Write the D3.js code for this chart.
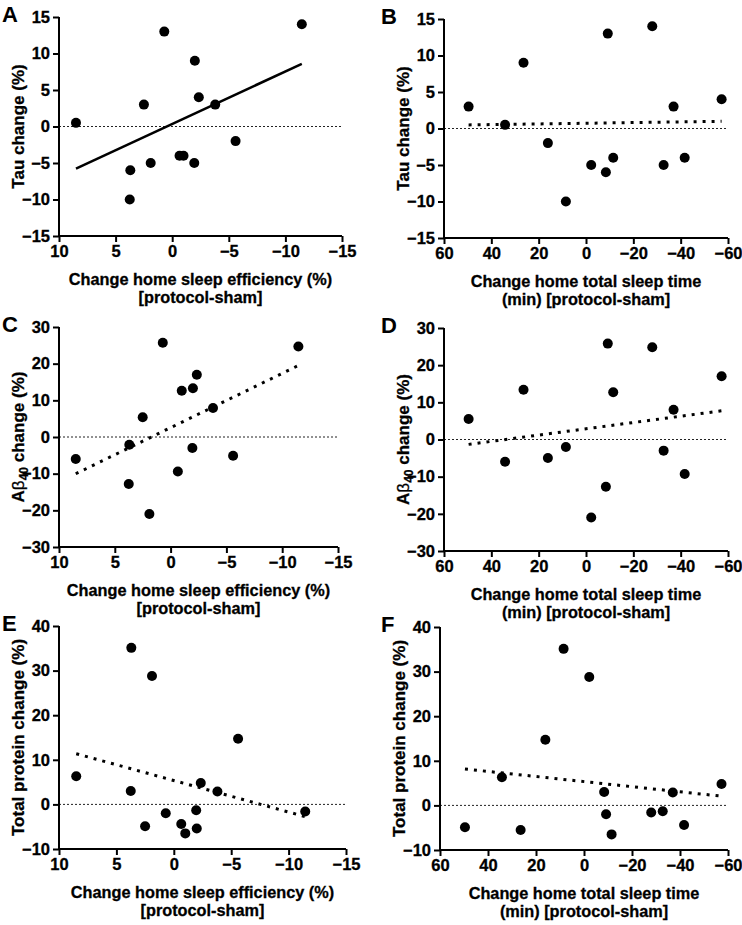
<!DOCTYPE html>
<html>
<head>
<meta charset="utf-8">
<script src="https://cdn.jsdelivr.net/npm/d3@7"></script>
<style>
  body { margin: 0; background: #fff; }
  svg text { font-family: "Liberation Sans", Arial, sans-serif; font-weight: bold; fill: #000; }
</style>
</head>
<body>
<svg id="chart" width="742" height="925"></svg>
<script>
// change in home sleep efficiency (%) per participant, protocol-sham
const effChange = [8.5, 3.7, 3.75, 2.5, 1.9, 0.7, -0.65, -1.0, -2.0, -1.95, -2.35, -3.8, -5.6, -11.45];
const tauByEff  = [0.5, -6, -10, 3, -5, 13, -4, -4, 9, -5, 4, 3, -2, 14];
const abByEff   = [-6, -2.1, -12.8, 5.4, -21, 25.7, -9.4, 12.6, 13.3, -3, 17, 7.9, -5.1, 24.7];
const protByEff = [6.3, 35.1, 3.0, -4.9, 28.8, -2, -4.4, -6.5, -5.4, -1.3, 4.8, 2.9, 14.7, -1.6];

// change in home total sleep time (min), protocol-sham
const tstChange  = [49.6, 34.2, 26.4, 16.1, 8.5, -2.2, -8.4, -9.2, -11.5, -28, -32.8, -37, -41.7, -57.3];
const tauByTst   = [3, 0.5, 9, -2, -10, -5, -6, 13, -4, 14, -5, 3, -4, 4];
const abByTst    = [5.5, -6, 13.4, -5, -2, -21, -12.7, 25.8, 12.7, 24.8, -3, 8, -9.3, 17];
const protByTst  = [-4.9, 6.3, -5.5, 14.7, 35.1, 28.8, 3.0, -2, -6.5, -1.6, -1.3, 2.9, -4.4, 4.8];

const effTicks = [10, 5, 0, -5, -10, -15];
const tstTicks = [60, 40, 20, 0, -20, -40, -60];
const tauTicks = [-15, -10, -5, 0, 5, 10, 15];
const abTicks  = [-30, -20, -10, 0, 10, 20, 30];
const protTicks = [-10, 0, 10, 20, 30, 40];

const effTitle = ["Change home sleep efficiency (%)", "[protocol-sham]"];
const tstTitle = ["Change home total sleep time", "(min) [protocol-sham]"];

const svg = d3.select("#chart");

// panel layouts (plot box in px)
const panels = [
  {id: "A", x: effChange, y: tauByEff, xt: effTicks, yt: tauTicks, xTitle: effTitle, yTitle: "tau", solid: true,
   box: [59, 342, 17, 236]},
  {id: "B", x: tstChange, y: tauByTst, xt: tstTicks, yt: tauTicks, xTitle: tstTitle, yTitle: "tau",
   box: [444, 728, 19, 238]},
  {id: "C", x: effChange, y: abByEff, xt: effTicks, yt: abTicks, xTitle: effTitle, yTitle: "ab",
   box: [59, 338, 327, 547]},
  {id: "D", x: tstChange, y: abByTst, xt: tstTicks, yt: abTicks, xTitle: tstTitle, yTitle: "ab",
   box: [444, 728, 328, 551]},
  {id: "E", x: effChange, y: protByEff, xt: effTicks, yt: protTicks, xTitle: effTitle, yTitle: "prot",
   box: [59, 346, 626, 849]},
  {id: "F", x: tstChange, y: protByTst, xt: tstTicks, yt: protTicks, xTitle: tstTitle, yTitle: "prot",
   box: [440, 728, 627, 850]}
];

// least squares fit
function linFit(xs, ys) {
  const mx = d3.mean(xs), my = d3.mean(ys);
  let sxy = 0, sxx = 0;
  xs.forEach((v, i) => { sxy += (v - mx) * (ys[i] - my); sxx += (v - mx) * (v - mx); });
  const b = sxy / sxx;
  return {b: b, a: my - b * mx};
}

panels.forEach(p => {
  const [x0, x1, y0, y1] = p.box;
  const xs = d3.scaleLinear().domain([p.xt[0], p.xt[p.xt.length - 1]]).range([x0, x1]);
  const ys = d3.scaleLinear().domain([p.yt[0], p.yt[p.yt.length - 1]]).range([y1, y0]);
  const g = svg.append("g");

  // zero reference line
  g.append("line")
    .attr("x1", xs(p.xt[0])).attr("x2", xs(p.xt[p.xt.length - 1]))
    .attr("y1", ys(0)).attr("y2", ys(0))
    .attr("stroke", "#222").attr("stroke-width", 1).attr("stroke-dasharray", "2,2");

  // axes
  const xAxis = d3.axisBottom(xs).tickValues(p.xt).tickSize(6).tickSizeOuter(0).tickPadding(3).tickFormat(d3.format("d"));
  const yAxis = d3.axisLeft(ys).tickValues(p.yt).tickSize(6).tickSizeOuter(0).tickPadding(3).tickFormat(d3.format("d"));
  const gx = g.append("g").attr("transform", "translate(0," + y1 + ")").call(xAxis);
  const gy = g.append("g").attr("transform", "translate(" + x0 + ",0)").call(yAxis);
  [gx, gy].forEach(a => {
    a.selectAll("path, line").attr("stroke", "#000").attr("stroke-width", 2);
    a.selectAll("text").style("font-size", "16.5px").style("font-family", "Liberation Sans, Arial, sans-serif")
      .style("font-weight", "bold").attr("fill", "#000").attr("stroke", "#000").attr("stroke-width", 0.3);
  });
  gx.select(".domain").attr("d", "M" + x0 + ",0H" + x1);
  gy.select(".domain").attr("d", "M0," + y0 + "V" + (y1 + 1));

  // regression line over the data range
  const fit = linFit(p.x, p.y);
  const ext = d3.extent(p.x);
  const fitLine = g.append("line")
    .attr("x1", xs(ext[1])).attr("y1", ys(fit.a + fit.b * ext[1]))
    .attr("x2", xs(ext[0])).attr("y2", ys(fit.a + fit.b * ext[0]))
    .attr("stroke", "#000");
  if (p.solid) fitLine.attr("stroke-width", 2.5);
  else fitLine.attr("stroke-width", 3).attr("stroke-dasharray", "3,6");

  // points
  g.selectAll("circle.pt").data(p.x.map((v, i) => [v, p.y[i]])).enter()
    .append("circle").attr("class", "pt")
    .attr("cx", d => xs(d[0])).attr("cy", d => ys(d[1])).attr("r", 5).attr("fill", "#000");

  // panel letter
  g.append("text").attr("x", x0 < 200 ? 2 : 381).attr("y", y0 + 5)
    .style("font-size", "22px").text(p.id);

  // x title
  const cx = (x0 + x1) / 2;
  p.xTitle.forEach((t, i) => {
    g.append("text").attr("x", cx).attr("y", y1 + 49 + i * 18)
      .attr("text-anchor", "middle").style("font-size", "16.3px")
      .attr("stroke", "#000").attr("stroke-width", 0.3).text(t);
  });

  // y title
  const yt = g.append("text")
    .attr("transform", "translate(" + (x0 - 35) + "," + ((y0 + y1) / 2) + ") rotate(-90)")
    .attr("text-anchor", "middle").style("font-size", "17px")
    .attr("stroke", "#000").attr("stroke-width", 0.3);
  if (p.yTitle === "tau") yt.text("Tau change (%)");
  else if (p.yTitle === "prot") yt.text("Total protein change (%)");
  else {
    yt.append("tspan").text("A");
    yt.append("tspan").style("font-weight", "normal").text("\u03B2");
    yt.append("tspan").attr("dy", 4).style("font-size", "12px").text("40");
    yt.append("tspan").attr("dy", -4).text(" change (%)");
  }
});
</script>
</body>
</html>
